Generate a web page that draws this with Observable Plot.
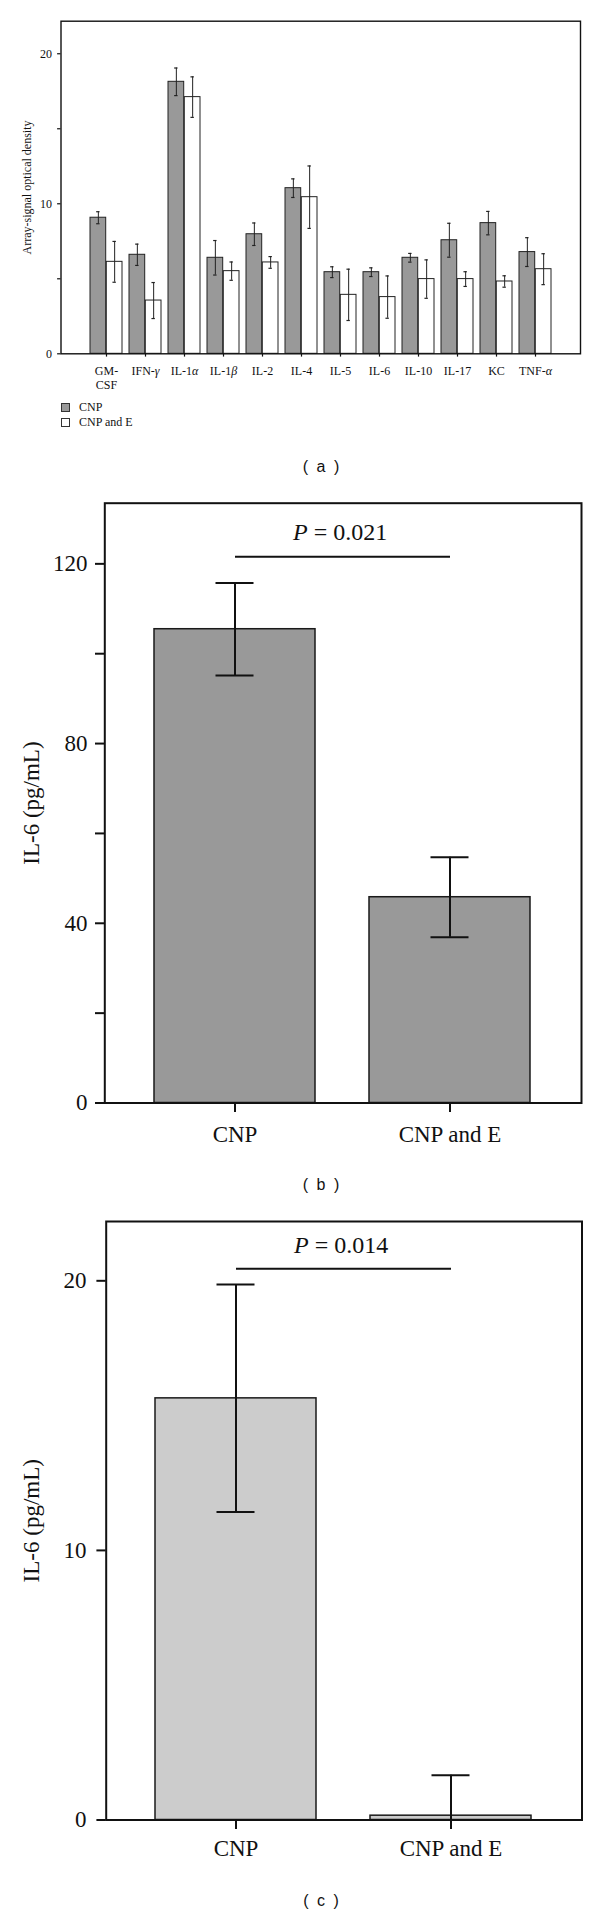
<!DOCTYPE html>
<html><head><meta charset="utf-8">
<script src="https://cdn.jsdelivr.net/npm/d3@7"></script>
<script src="https://cdn.jsdelivr.net/npm/@observablehq/plot@0.6"></script>
<style>
body{margin:0;background:#fff;}
#page{position:relative;width:600px;height:1915px;background:#fff;overflow:hidden;}
#page svg{position:absolute;left:0;}
.cap{position:absolute;transform:translate(-50%,-50%);font-family:"Liberation Sans",Arial,sans-serif;font-size:16px;letter-spacing:2px;white-space:pre;color:#111;}
.leg{position:absolute;font-family:"Liberation Serif","Times New Roman",serif;font-size:12px;color:#111;white-space:nowrap;}
.sw{position:absolute;width:7px;height:7px;border:1px solid #333;}
</style></head><body><div id="page"></div>
<script>
// ---------- Panel (a): cytokine array ----------
const cytokines = ["GM-\nCSF","IFN-γ","IL-1α","IL-1β","IL-2","IL-4","IL-5","IL-6","IL-10","IL-17","KC","TNF-α"];
const cnpMean   = [9.07, 6.60, 18.13, 6.40, 7.97, 11.04, 5.44, 5.44, 6.40, 7.57, 8.71, 6.78];
const cnpErr    = [0.40, 0.71, 0.92, 1.15, 0.75, 0.62, 0.36, 0.29, 0.29, 1.13, 0.78, 0.96];
const cnpEMean  = [6.13, 3.55, 17.11, 5.51, 6.09, 10.44, 3.93, 3.78, 4.98, 4.98, 4.82, 5.64];
const cnpEErr   = [1.36, 1.20, 1.35, 0.61, 0.39, 2.08, 1.71, 1.41, 1.28, 0.49, 0.38, 1.03];
const yTicksA = [0, 5, 10, 15, 20];
const yLabelsA = [0, 10, 20];

// ---------- Panel (b) ----------
const groups = ["CNP", "CNP and E"];
const il6B = [105.45, 45.8];
const il6BErr = [10.3, 8.9];
const yTicksB = [0, 20, 40, 60, 80, 100, 120];
const yLabelsB = [0, 40, 80, 120];
const pB = "P = 0.021";

// ---------- Panel (c) ----------
const il6C = [15.64, 0.16];
const il6CErr = [4.22, 1.5];
const yTicksC = [0, 10, 20];
const yLabelsC = [0, 10, 20];
const pC = "P = 0.014";

const serif = '"Liberation Serif","Times New Roman",Times,serif';
const page = document.getElementById("page");

function italicize(svg) {
  const walker = document.createTreeWalker(svg, NodeFilter.SHOW_TEXT);
  const nodes = [];
  while (walker.nextNode()) nodes.push(walker.currentNode);
  const re = /([αβγ]|^P(?= =))/;
  for (const n of nodes) {
    const s = n.nodeValue;
    if (!re.test(s)) continue;
    const parts = s.split(re).filter(p => p !== "");
    const frag = document.createDocumentFragment();
    parts.forEach((p, i) => {
      const ital = /^[αβγ]$/.test(p) || (p === "P" && i === 0 && s.startsWith("P ="));
      if (ital) {
        const t = document.createElementNS("http://www.w3.org/2000/svg", "tspan");
        t.setAttribute("font-style", "italic");
        t.textContent = p;
        frag.appendChild(t);
      } else frag.appendChild(document.createTextNode(p));
    });
    n.parentNode.replaceChild(frag, n);
  }
}

// Panel (a)
const rowsA = cytokines.map((c, i) => ({c, m: cnpMean[i], e: cnpErr[i], m2: cnpEMean[i], e2: cnpEErr[i]}));
const half = 16.3, capIn = 14.3, off = 8.15;
const plotA = Plot.plot({
  width: 600, height: 395,
  marginTop: 20.7, marginBottom: 41.7, marginLeft: 60.5, marginRight: 20,
  style: {fontFamily: serif, fontSize: "12px", color: "#111", background: "transparent"},
  x: {domain: cytokines, paddingInner: 0.177, paddingOuter: 0.648, label: null},
  y: {domain: [0, 22.17], label: null},
  marks: [
    Plot.barY(rowsA, {x: "c", y: "m", fill: "#999999", stroke: "#222", strokeWidth: 1, insetRight: half}),
    Plot.barY(rowsA, {x: "c", y: "m2", fill: "#ffffff", stroke: "#222", strokeWidth: 1, insetLeft: half}),
    Plot.ruleX(rowsA, {x: "c", y1: d => d.m - d.e, y2: d => d.m + d.e, dx: -off, stroke: "#222", strokeWidth: 1}),
    Plot.tickY(rowsA, {x: "c", y: d => d.m + d.e, dx: -off, insetLeft: capIn, insetRight: capIn, stroke: "#222", strokeWidth: 1.2}),
    Plot.tickY(rowsA, {x: "c", y: d => d.m - d.e, dx: -off, insetLeft: capIn, insetRight: capIn, stroke: "#222", strokeWidth: 1.2}),
    Plot.ruleX(rowsA, {x: "c", y1: d => d.m2 - d.e2, y2: d => d.m2 + d.e2, dx: off, stroke: "#222", strokeWidth: 1}),
    Plot.tickY(rowsA, {x: "c", y: d => d.m2 + d.e2, dx: off, insetLeft: capIn, insetRight: capIn, stroke: "#222", strokeWidth: 1.2}),
    Plot.tickY(rowsA, {x: "c", y: d => d.m2 - d.e2, dx: off, insetLeft: capIn, insetRight: capIn, stroke: "#222", strokeWidth: 1.2}),
    Plot.frame({stroke: "#111", strokeWidth: 1.4}),
    Plot.axisY({ticks: yTicksA, tickFormat: d => yLabelsA.includes(d) ? String(d) : "", tickSize: 3.4, tickPadding: 5.6, strokeWidth: 1.2,
      label: "Array-signal optical density", labelAnchor: "center", labelOffset: 39, labelArrow: "none"}),
    Plot.axisX({tickSize: 3.3, tickPadding: 8, label: null, lineHeight: 1.17, strokeWidth: 1.2})
  ]
});
plotA.style.top = "0px";
italicize(plotA);
page.appendChild(plotA);

// legend for (a)
page.insertAdjacentHTML("beforeend",
  '<div class="sw" style="left:61px;top:403px;background:#999999"></div>' +
  '<div class="leg" style="left:79px;top:400px">CNP</div>' +
  '<div class="sw" style="left:61px;top:418px;background:#ffffff"></div>' +
  '<div class="leg" style="left:79px;top:415px">CNP and E</div>' +
  '<div class="cap" style="left:322px;top:467px">( a )</div>');

function panel(vals, errs, fill, yTop, ticks, labels, pText, pY, pLabelY, opts) {
  const rows = groups.map((g, i) => ({g, v: vals[i], e: errs[i]}));
  const sig = [{from: groups[0], to: groups[1], y: pY, ly: pLabelY, label: pText}];
  const capInset = 61.5;
  return Plot.plot({
    width: 600, height: opts.height,
    marginTop: opts.mt, marginBottom: opts.mb, marginLeft: opts.ml, marginRight: opts.mr,
    style: {fontFamily: serif, fontSize: "23px", color: "#111", background: "transparent"},
    x: {domain: groups, paddingInner: 0.249, paddingOuter: 0.23, label: null},
    y: {domain: [0, yTop], label: null},
    marks: [
      Plot.barY(rows, {x: "g", y: "v", fill, stroke: "#1a1a1a", strokeWidth: 1.5}),
      Plot.ruleX(rows, {x: "g", y1: d => d.v - d.e, y2: d => d.v + d.e, stroke: "#111", strokeWidth: 2, clip: true}),
      Plot.tickY(rows, {x: "g", y: d => d.v + d.e, insetLeft: capInset, insetRight: capInset, stroke: "#111", strokeWidth: 2, clip: true}),
      Plot.tickY(rows, {x: "g", y: d => d.v - d.e, insetLeft: capInset, insetRight: capInset, stroke: "#111", strokeWidth: 2, clip: true}),
      Plot.link(sig, {x1: "from", x2: "to", y1: "y", y2: "y", stroke: "#111", strokeWidth: 2}),
      Plot.text(sig, {y: "ly", text: "label", frameAnchor: "middle", dx: -3, fontSize: 24, fill: "#111"}),
      Plot.frame({stroke: "#111", strokeWidth: 2}),
      Plot.axisY({ticks, tickFormat: d => labels.includes(d) ? String(d) : "", tickSize: 9.3, tickPadding: opts.tp, strokeWidth: 2,
        label: "IL-6 (pg/mL)", labelAnchor: "center", labelOffset: opts.lo, labelArrow: "none"}),
      Plot.axisX({tickSize: 9.5, tickPadding: opts.xtp, label: null, strokeWidth: 2})
    ]
  });
}

const plotB = panel(il6B, il6BErr, "#999999", 133.5, yTicksB, yLabelsB, pB, 121.6, 127,
  {height: 660, mt: 12.7, mb: 47.5, ml: 104.3, mr: 19, tp: 8, lo: 81.8, xtp: 13});
plotB.style.top = "490px";
italicize(plotB);
page.appendChild(plotB);
page.insertAdjacentHTML("beforeend", '<div class="cap" style="left:322px;top:1185px">( b )</div>');

const plotC = panel(il6C, il6CErr, "#cccccc", 22.2, yTicksC, yLabelsC, pC, 20.45, 21.3,
  {height: 665, mt: 16, mb: 50.5, ml: 105.7, mr: 18.5, tp: 10.5, lo: 83.2, xtp: 10.5});
plotC.style.top = "1205px";
italicize(plotC);
page.appendChild(plotC);
page.insertAdjacentHTML("beforeend", '<div class="cap" style="left:322px;top:1901px">( c )</div>');
</script></body></html>
